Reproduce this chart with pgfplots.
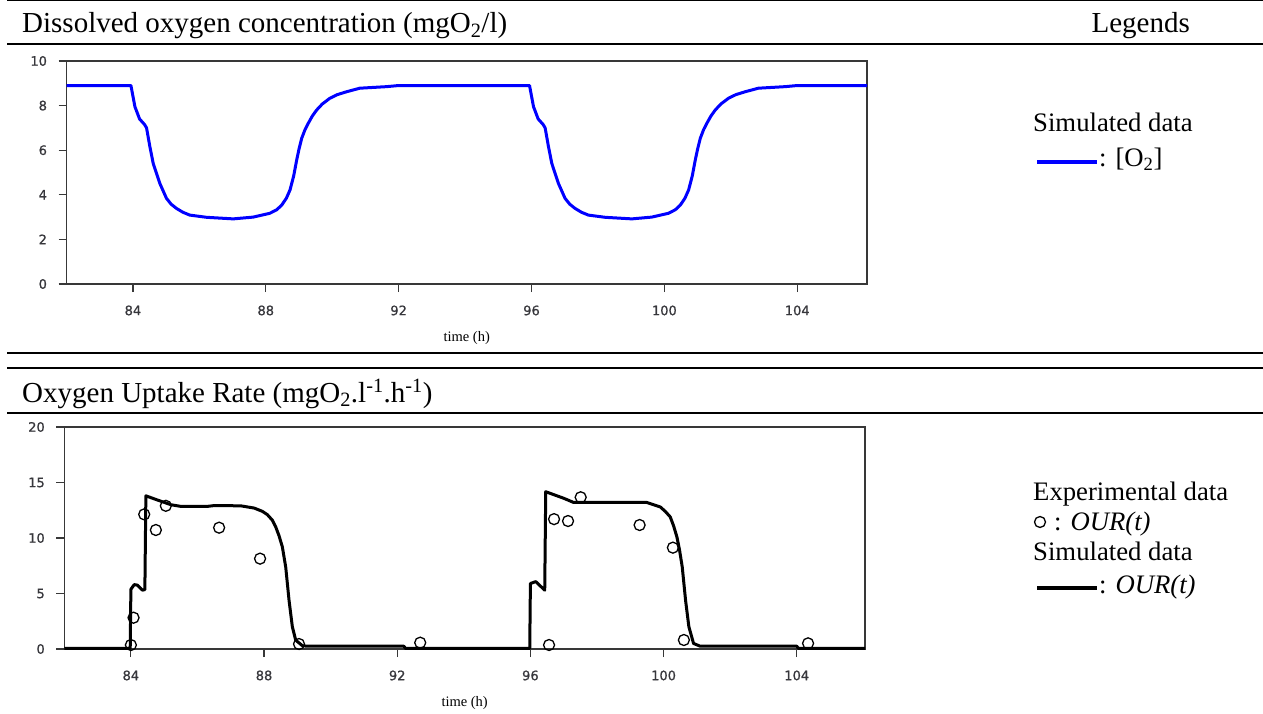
\documentclass[border=0pt]{standalone}
\usepackage{pgfplots}
\pgfplotsset{compat=1.18}
\usepackage{fontspec}
\setmainfont{Liberation Serif}
\newfontfamily\tickfont[FakeBold=1]{DejaVu Sans}
\definecolor{axgray}{RGB}{56,56,56}
\definecolor{ticklab}{RGB}{55,55,60}

\pgfplotstableread{
t v
82 8.9
83.94 8.9
84.06 7.95
84.2 7.4
84.35 7.15
84.41 7.0
84.51 6.16
84.61 5.41
84.81 4.51
85.01 3.84
85.15 3.58
85.31 3.39
85.5 3.22
85.71 3.09
86.22 2.99
87.02 2.92
87.62 3.0
88.12 3.17
88.33 3.33
88.48 3.54
88.62 3.85
88.73 4.22
88.84 4.85
88.93 5.56
89.0 6.05
89.08 6.53
89.18 6.92
89.28 7.21
89.4 7.53
89.53 7.80
89.7 8.07
89.93 8.33
90.15 8.49
90.43 8.62
90.83 8.78
91.64 8.85
92 8.9
95.94 8.9
96.06 7.95
96.2 7.4
96.35 7.15
96.41 7.0
96.51 6.16
96.61 5.41
96.81 4.51
97.01 3.84
97.15 3.58
97.31 3.39
97.5 3.22
97.71 3.09
98.22 2.99
99.02 2.92
99.62 3.0
100.12 3.17
100.33 3.33
100.48 3.54
100.62 3.85
100.73 4.22
100.84 4.85
100.93 5.56
101.0 6.05
101.08 6.53
101.18 6.92
101.28 7.21
101.4 7.53
101.53 7.80
101.7 8.07
101.93 8.33
102.15 8.49
102.43 8.62
102.83 8.78
103.64 8.85
104 8.9
106.1 8.9
}\oxygen

\pgfplotstableread{
t v
82 0.05
83.98 0.05
84.0 5.38
84.1 5.8
84.2 5.75
84.35 5.3
84.42 5.35
84.45 13.8
84.8 13.42
85.2 13.0
85.5 12.85
86.3 12.85
86.5 12.92
87.3 12.9
87.7 12.7
87.95 12.4
88.1 12.1
88.25 11.6
88.35 11.0
88.45 10.2
88.55 9.2
88.65 7.4
88.75 4.4
88.85 2.0
88.95 0.8
89.15 0.3
89.3 0.25
92.2 0.25
92.25 0.05
95.98 0.05
96.0 5.9
96.16 6.07
96.43 5.3
96.46 14.17
97.0 13.58
97.3 13.2
99.5 13.2
99.9 12.8
100.05 12.4
100.2 11.9
100.3 11.1
100.4 10.1
100.48 8.9
100.56 7.4
100.66 4.4
100.76 2.0
100.9 0.5
101.1 0.25
104.0 0.25
104.05 0.05
106.05 0.05
}\oursim

\pgfplotstableread{
t v
84.0 0.36
84.08 2.82
84.4 12.13
84.75 10.72
85.05 12.9
86.65 10.93
87.88 8.14
89.05 0.45
92.69 0.57
96.56 0.36
96.71 11.7
97.13 11.53
97.51 13.67
99.28 11.17
100.28 9.13
100.61 0.81
104.34 0.51
}\ourexp

\pgfplotsset{
  myaxis/.style={
    scale only axis,
    axis line style={axgray, line width=1.4pt},
    tick align=outside,
    major tick length=8pt,
    tick style={axgray, line width=1.2pt},
    xtick pos=bottom, ytick pos=left,
    xtick={84,88,92,96,100,104},
    /pgf/number format/assume math mode=true,
    ticklabel style={font=\tickfont\fontsize{13}{13}\selectfont, text=ticklab},
    xticklabel style={yshift=-10pt},
    yticklabel style={xshift=-8pt},
    xlabel={time (h)},
    xlabel style={font=\fontsize{14.5}{14.5}\selectfont, at={(axis description cs:0.5,0)}, anchor=center, yshift=-54pt},
    clip=false,
  }
}

\begin{document}
\begin{tikzpicture}
\useasboundingbox (0pt,0pt) rectangle (1263pt,713pt);
\begin{scope}[x=1pt,y=1pt]
% rules
\draw[line width=1pt] (7,712.5) -- (1263,712.5);
\draw[line width=2pt] (7,669) -- (1263,669);
\draw[line width=2pt] (7,360) -- (1263,360);
\draw[line width=2pt] (7,345) -- (1263,345);
\draw[line width=2pt] (7,300) -- (1263,300);
% titles
\node[anchor=base west, inner sep=0pt, font=\fontsize{29}{33}\selectfont] at (22,680) {Dissolved oxygen concentration (mgO\textsubscript{2}/l)};
\node[anchor=base east, inner sep=0pt, font=\fontsize{29}{33}\selectfont] at (1190,680) {Legends};
\node[anchor=base west, inner sep=0pt, font=\fontsize{29}{33}\selectfont] at (22,311) {Oxygen Uptake Rate (mgO\textsubscript{2}.l\textsuperscript{-1}.h\textsuperscript{-1})};
% legends
\begin{scope}[every node/.style={anchor=base west, inner sep=0pt, font=\fontsize{26.7}{30}\selectfont}]
\node at (1033,581) {Simulated data};
\draw[blue, line width=4.5pt] (1037,551) -- (1097,551);
\node at (1099,546) {: [O\textsubscript{2}]};
\node at (1033,213) {Experimental data};
\draw[black, line width=1.3pt] (1040,191) circle (5.5);
\node at (1054,183) {: \textit{OUR(t)}};
\node at (1033,153) {Simulated data};
\draw[black, line width=4.5pt] (1037,125) -- (1097,125);
\node at (1099,120) {: \textit{OUR(t)}};
\end{scope}
\end{scope}

% top axis
\begin{axis}[myaxis,
  at={(66.5pt,429pt)}, anchor=south west,
  width=800.5pt, height=223pt,
  xmin=82, xmax=106.1, ymin=0, ymax=10,
  ytick={0,2,...,10},
]
\addplot[blue, line width=3pt, line join=round] table[x=t,y=v] {\oxygen};
\end{axis}

% bottom axis
\begin{axis}[myaxis,
  at={(64.3pt,64pt)}, anchor=south west,
  width=800.7pt, height=222pt,
  xmin=82, xmax=106.05, ymin=0, ymax=20,
  ytick={0,5,...,20},
]
\addplot[black, line width=3pt, line join=round] table[x=t,y=v] {\oursim};
\addplot[only marks, mark=o, mark size=5.5pt, mark options={black, line width=1.3pt}] table[x=t,y=v] {\ourexp};
\end{axis}
\end{tikzpicture}
\end{document}
